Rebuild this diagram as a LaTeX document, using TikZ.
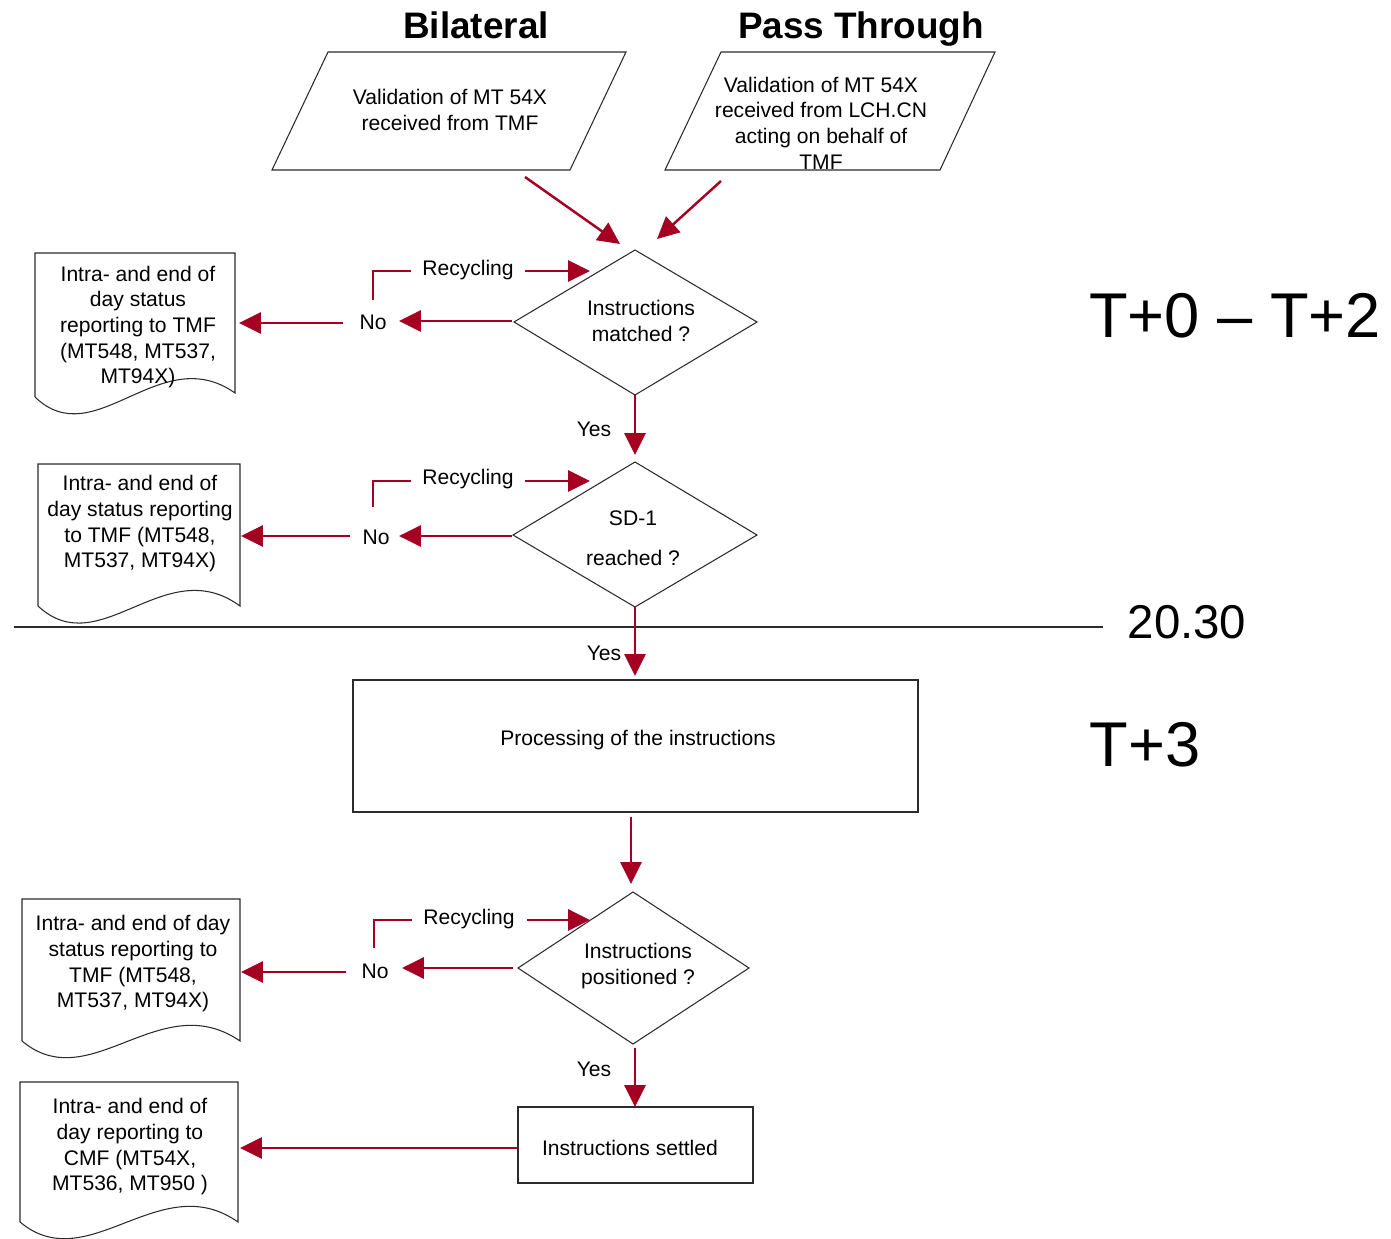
\documentclass[tikz,border=0pt]{standalone}
\usepackage{fontspec}
\setmainfont{Liberation Sans}
\usetikzlibrary{arrows.meta}
\definecolor{flowred}{HTML}{A50021}
\definecolor{edge}{HTML}{2B2B2B}
\begin{document}
\begin{tikzpicture}[x=0.02cm,y=-0.02cm,
  outline/.style={draw=edge,line width=0.6pt,fill=white},
  flow/.style={draw=flowred,line width=1.4pt,-{Triangle[length=12.5pt,width=12pt]}},
  elbow/.style={draw=flowred,line width=1.3pt},
  txt/.style={font=\fontsize{12}{14.6}\selectfont,align=center,inner sep=0pt},
  head/.style={font=\fontsize{21}{24}\selectfont\bfseries,inner sep=0pt},
  period/.style={inner sep=0pt}]
\useasboundingbox (0,0) rectangle (1391,1239);

% ---- column headings
\node[head,anchor=base] (hbil) at (476,39) {Bilateral};
\node[head,anchor=base] (hpass) at (861,39) {Pass Through};

% ---- input parallelograms
\draw[outline] (328,52) -- (626,52) -- (570,170) -- (272,170) -- cycle;
\node[txt] (valbil) at (450,110) {Validation of MT 54X\\received from TMF};
\draw[outline] (721,52) -- (995,52) -- (940,170) -- (665,170) -- cycle;
\node[txt] (valpass) at (821,123) {Validation of MT 54X\\received from LCH.CN\\acting on behalf of\\TMF};

% ---- decision 1
\draw[outline] (635,250) -- (757,322) -- (635,395) -- (514,322) -- cycle;
\node[txt] (matched) at (641,321) {Instructions\\matched ?};

% ---- decision 2
\draw[outline] (635,462) -- (757,535) -- (635,607) -- (513,535) -- cycle;
\node[txt] (sd) at (633,538) {SD-1\\[8pt]reached ?};

% ---- processing box
\draw[outline] (353,680) rectangle (918,812);
\node[txt] (proc) at (638,740) {Processing of the instructions};

% ---- decision 3
\draw[outline] (633,892) -- (749,968) -- (633,1044) -- (518,968) -- cycle;
\node[txt] (pos) at (638,966) {Instructions\\positioned ?};

% ---- settled box
\draw[outline] (518,1107) rectangle (753,1183);
\node[txt] (settled) at (630,1148) {Instructions settled};

% ---- report documents (wavy bottom)
\draw[outline] (35,397) -- (35,253) -- (235,253) -- (235,393)
  .. controls (160,340) and (95,455) .. (35,397);
\node[txt] (rep1) at (138,327) {Intra- and end of\\day status\\reporting to TMF\\(MT548, MT537,\\MT94X)};

\draw[outline] (38,606) -- (38,464) -- (240,464) -- (240,606)
  .. controls (165,551) and (100,664) .. (38,606);
\node[txt] (rep2) at (140,524) {Intra- and end of\\day status reporting\\to TMF (MT548,\\MT537, MT94X)};

\draw[outline] (22,1041) -- (22,899) -- (240,899) -- (240,1041)
  .. controls (160,986) and (90,1098) .. (22,1041);
\node[txt] (rep3) at (133,964) {Intra- and end of day\\status reporting to\\TMF (MT548,\\MT537, MT94X)};

\draw[outline] (20,1222) -- (20,1082) -- (238,1082) -- (238,1222)
  .. controls (160,1167) and (88,1279) .. (20,1222);
\node[txt] (rep4) at (130,1147) {Intra- and end of\\day reporting to\\CMF (MT54X,\\MT536, MT950 )};

% ---- cut-off line and period labels
\coordinate (cutL) at (14,627);
\coordinate (cutR) at (1103,627);
\draw[draw=edge,line width=0.8pt] (cutL) -- (cutR);
\node[period,font=\fontsize{27}{30}\selectfont] (cutoff) at (1187,622) {20.30};
\node[period,font=\fontsize{36}{40}\selectfont] (early) at (1235,316) {T+0 -- T+2};
\node[period,font=\fontsize{36}{40}\selectfont] (late) at (1145,745) {T+3};

% ---- small labels
\node[txt] (rec1) at (468,270) {Recycling};
\node[txt] (no1) at (373,322) {No};
\node[txt] (yes1) at (594,429) {Yes};
\node[txt] (rec2) at (468,479) {Recycling};
\node[txt] (no2) at (376,537) {No};
\node[txt] (yes2) at (604,653) {Yes};
\node[txt] (rec3) at (469,919) {Recycling};
\node[txt] (no3) at (375,971) {No};
\node[txt] (yes3) at (594,1069) {Yes};

% ---- connector end points
\coordinate (a1s) at (525,177);  \coordinate (a1e) at (620,244);
\coordinate (a2s) at (721,181);  \coordinate (a2e) at (657,239);
\coordinate (d1l) at (512,321);  \coordinate (no1r) at (399,321);
\coordinate (no1l) at (343,323); \coordinate (rep1r) at (239,323);
\coordinate (e1a) at (373,300);  \coordinate (e1b) at (373,271); \coordinate (e1c) at (411,271);
\coordinate (r1s) at (525,271);  \coordinate (r1e) at (590,271);
\coordinate (d1b) at (635,395);  \coordinate (d2t) at (635,455);
\coordinate (d2l) at (512,536);  \coordinate (no2r) at (399,536);
\coordinate (no2l) at (350,536); \coordinate (rep2r) at (241,536);
\coordinate (e2a) at (373,507);  \coordinate (e2b) at (373,481); \coordinate (e2c) at (411,481);
\coordinate (r2s) at (525,481);  \coordinate (r2e) at (590,481);
\coordinate (d2b) at (635,607);  \coordinate (proct) at (635,676);
\coordinate (procb) at (631,817); \coordinate (d3t) at (631,884);
\coordinate (d3l) at (513,968);  \coordinate (no3r) at (402,968);
\coordinate (no3l) at (346,972); \coordinate (rep3r) at (241,972);
\coordinate (e3a) at (374,948);  \coordinate (e3b) at (374,920); \coordinate (e3c) at (412,920);
\coordinate (r3s) at (527,920);  \coordinate (r3e) at (590,920);
\coordinate (d3b) at (635,1048); \coordinate (sett) at (635,1107);
\coordinate (setl) at (518,1148); \coordinate (rep4r) at (240,1148);

% ---- connectors
\draw[flow] (a1s) -- (a1e);
\draw[flow] (a2s) -- (a2e);
\draw[flow] (d1l) -- (no1r);
\draw[flow] (no1l) -- (rep1r);
\draw[elbow] (e1a) -- (e1b) -- (e1c);
\draw[flow] (r1s) -- (r1e);
\draw[flow] (d1b) -- (d2t);
\draw[flow] (d2l) -- (no2r);
\draw[flow] (no2l) -- (rep2r);
\draw[elbow] (e2a) -- (e2b) -- (e2c);
\draw[flow] (r2s) -- (r2e);
\draw[flow] (d2b) -- (proct);
\draw[flow] (procb) -- (d3t);
\draw[flow] (d3l) -- (no3r);
\draw[flow] (no3l) -- (rep3r);
\draw[elbow] (e3a) -- (e3b) -- (e3c);
\draw[flow] (r3s) -- (r3e);
\draw[flow] (d3b) -- (sett);
\draw[flow] (setl) -- (rep4r);
\end{tikzpicture}
\end{document}
